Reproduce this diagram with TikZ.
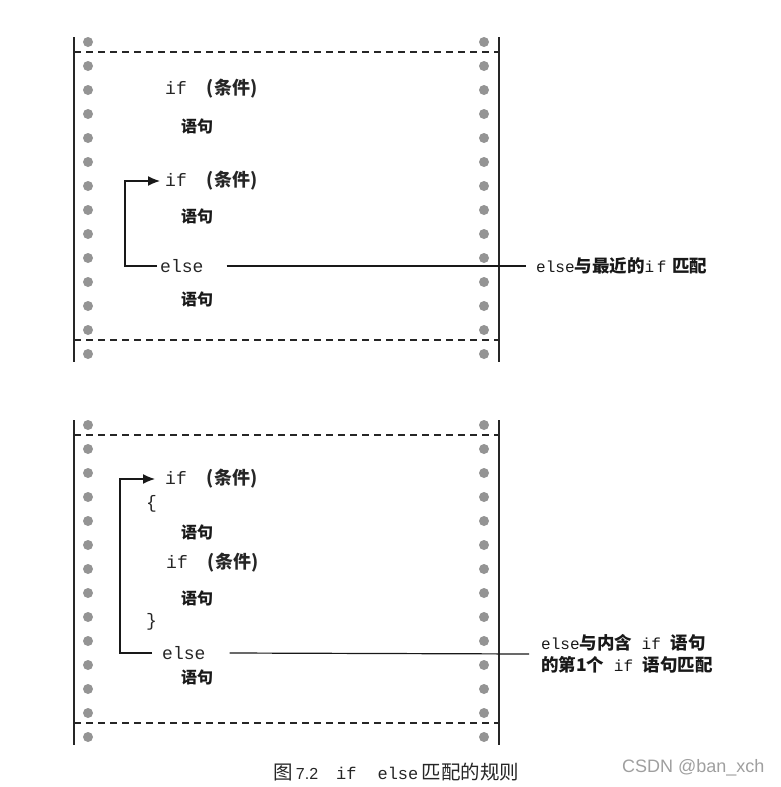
\documentclass[tikz,border=0pt]{standalone}
\usepackage{fontspec}
\setmainfont{Liberation Serif}
\setmonofont{Liberation Mono}
\setsansfont{Liberation Sans}
\newfontfamily\cjk{Noto Sans CJK SC}
\usepackage{tikz}
\usetikzlibrary{arrows.meta}

\newcommand{\tiaojian}{{\cjk\bfseries (条件)}}
\newcommand{\hz}[1]{{\fontsize{17.5}{22}\selectfont\cjk\bfseries #1}}

\begin{document}
\begin{tikzpicture}[x=1pt,y=-1pt,
  code/.style={anchor=west, inner sep=0pt, text=black!85, font=\fontsize{18}{20}\selectfont\ttfamily},
  stmt/.style={anchor=west, inner sep=0pt, text=black!90, font=\fontsize{16}{18}\selectfont\cjk\bfseries},
  note/.style={anchor=west, inner sep=0pt, align=left, text=black!90, font=\fontsize{16}{22}\selectfont\ttfamily},
  edge/.style={line width=1.8pt, black!85},
  tear/.style={line width=1.2pt, black!85, dash pattern=on 7pt off 5pt},
  link/.style={line width=1.2pt, black!90},
  back/.style={line width=1.4pt, black!90, -{Latex[length=12pt,width=10pt]}}]
\useasboundingbox (0,0) rectangle (781,787);

% paper strips
\foreach \t in {37,420}{
  \draw[edge] (74,\t) -- (74,\t+325);
  \draw[edge] (499,\t) -- (499,\t+325);
  \draw[tear] (74,\t+15) -- (499,\t+15);
  \draw[tear] (74,\t+303) -- (499,\t+303);
  \foreach \k in {0,...,13}{
    \fill[black!42] (88,\t+5+24*\k) circle (5pt);
    \fill[black!42] (484,\t+5+24*\k) circle (5pt);
  }
}

% upper strip
\node[code] (ifA) at (165,89) {if\hspace{20pt}\tiaojian};
\node[stmt] (stA) at (181,126) {语句};
\node[code] (ifB) at (165,181) {if\hspace{20pt}\tiaojian};
\node[stmt] (stB) at (181,216) {语句};
\node[code] (elseA) at (160,266) {else};
\node[stmt] (stC) at (181,299) {语句};
\node[note] (labA) at (536,266) {else\hz{与最近的}i\,f\hspace{6pt}\hz{匹配}};

\coordinate (bendA) at (125,0);
\draw[back, shorten <=3pt, shorten >=5pt] (elseA.west) -- (elseA.west -| bendA) |- (ifB.west);
\draw[link] ([xshift=23pt]elseA.east) -- ([xshift=-10pt]labA.west);

% lower strip
\node[code] (ifC) at (165,479) {if\hspace{20pt}\tiaojian};
\node[code] (brO) at (146,504) {\{};
\node[stmt] (stD) at (181,532) {语句};
\node[code] (ifD) at (166,563) {if\hspace{20pt}\tiaojian};
\node[stmt] (stE) at (181,598) {语句};
\node[code] (brC) at (146,622) {\}};
\node[code] (elseB) at (162,653) {else};
\node[stmt] (stF) at (181,677) {语句};
\node[note] (labB) at (541,654) {else\hz{与内含} if \hz{语句}\\\hz{的第1个} if \hz{语句匹配}};

\coordinate (bendB) at (120,0);
\draw[back, shorten <=10pt, shorten >=10pt] (elseB.west) -- (elseB.west -| bendB) |- (ifC.west);
\draw[link] ([xshift=24pt]elseB.east) -- ([xshift=-12pt]labB.west);

% caption
\node[anchor=west, inner sep=0pt, text=black!85, font=\fontsize{19.5}{22}\selectfont\cjk] (cap) at (273,772)
  {图\,{\sffamily\fontsize{16}{18}\selectfont 7.2}\hspace{18pt}{\ttfamily\fontsize{17}{18}\selectfont if\hspace{21pt}else}\,匹配的规则};
\node[anchor=west, inner sep=0pt, text=gray!75, font=\fontsize{18}{20}\selectfont\sffamily] (mark) at (622,768)
  {CSDN @ban\_xch};
\end{tikzpicture}
\end{document}
